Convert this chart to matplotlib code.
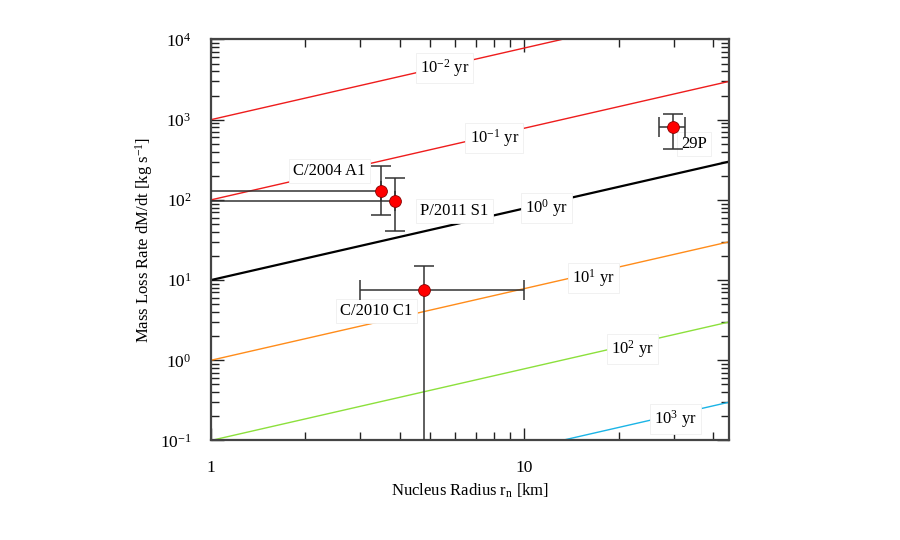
import numpy as np
import matplotlib
matplotlib.use("Agg")
import matplotlib.pyplot as plt

plt.rcParams['font.family'] = ['Liberation Serif', 'DejaVu Serif']
plt.rcParams['mathtext.fontset'] = 'custom'
plt.rcParams['mathtext.rm'] = 'Liberation Serif'
plt.rcParams['mathtext.it'] = 'Liberation Serif:italic'

# ---- data ----
x_range = [1.0, 45.0]
y_range = [0.1, 1e4]

# lifetime lines: mass-loss rate at r=1 km and at r=45 km
line_labels = ["10$^{-2}$ yr", "10$^{-1}$ yr", "10$^{0}$ yr",
               "10$^{1}$ yr", "10$^{2}$ yr", "10$^{3}$ yr"]
line_y_start = [1000.0, 100.0, 10.0, 1.0, 0.1, 0.01]
line_y_end = [30000.0, 3000.0, 300.0, 30.0, 3.0, 0.3]
line_colors = ["#ee1c1c", "#ee1c1c", "#000000", "#ff8c1a", "#8ce03c", "#1bb4e6"]
line_widths = [1.0, 1.0, 1.6, 1.0, 1.0, 1.0]
line_label_x = [5.56, 8.02, 11.75, 16.6, 22.2, 30.3]
line_label_y = [4420.0, 591.0, 79.0, 10.6, 1.38, 0.185]

# comets
comet_names = ["C/2004 A1", "P/2011 S1", "C/2010 C1", "29P"]
comet_r = [3.49, 3.88, 4.77, 29.8]
comet_r_lo = [0.5, 0.5, 3.0, 26.9]
comet_r_hi = [3.49, 3.88, 10.0, 32.6]
comet_m = [130.0, 96.0, 7.46, 811.0]
comet_m_lo = [65.0, 40.6, 0.01, 435.0]
comet_m_hi = [262.0, 189.0, 14.9, 1167.0]
comet_label_x = [2.39, 5.98, 3.37, 34.8]
comet_label_y = [231.0, 73.3, 4.15, 498.0]

xtick_major = [1, 10]
xtick_major_labels = ["1", "10"]
ytick_major = [0.1, 1, 10, 100, 1000, 10000]
ytick_major_labels = ["10$^{-1}$", "10$^{0}$", "10$^{1}$", "10$^{2}$", "10$^{3}$", "10$^{4}$"]

# ---- figure ----
fig = plt.figure(figsize=(9, 5.4), dpi=100)
ax = fig.add_axes([0.2344, 0.1843, 0.5756, 0.7426])
ax.set_xscale('log')
ax.set_yscale('log')
ax.set_xlim(*x_range)
ax.set_ylim(*y_range)

bbox = dict(boxstyle='square,pad=0.25', fc='white', ec='#efefef', lw=0.6)

for ys, ye, c, lw in zip(line_y_start, line_y_end, line_colors, line_widths):
    ax.plot(x_range, [ys, ye], color=c, lw=lw, zorder=2)
for lab, lx, ly in zip(line_labels, line_label_x, line_label_y):
    ax.text(lx, ly, lab, ha='center', va='center', fontsize=12,
            bbox=bbox, zorder=3)

for i in range(len(comet_names)):
    xe = [[comet_r[i] - comet_r_lo[i]], [comet_r_hi[i] - comet_r[i]]]
    ye = [[comet_m[i] - comet_m_lo[i]], [comet_m_hi[i] - comet_m[i]]]
    ax.errorbar([comet_r[i]], [comet_m[i]], xerr=xe, yerr=ye, fmt='none',
                ecolor='#333333', elinewidth=1.1, capsize=7.5, capthick=1.1,
                zorder=4)
    ax.plot([comet_r[i]], [comet_m[i]], 'o', ms=8.5, mfc='#ff0000',
            mec='#880000', mew=0.6, zorder=5)
for name, lx, ly in zip(comet_names, comet_label_x, comet_label_y):
    ax.text(lx, ly, name, ha='center', va='center', fontsize=12,
            bbox=bbox, zorder=3)

# ticks
ax.set_xticks(xtick_major)
ax.set_xticklabels(xtick_major_labels)
ax.set_yticks(ytick_major)
ax.set_yticklabels(ytick_major_labels)
ax.xaxis.set_minor_locator(matplotlib.ticker.LogLocator(base=10, subs=np.arange(2, 10)))
ax.yaxis.set_minor_locator(matplotlib.ticker.LogLocator(base=10, subs=np.arange(2, 10), numticks=20))
ax.xaxis.set_minor_formatter(matplotlib.ticker.NullFormatter())
ax.yaxis.set_minor_formatter(matplotlib.ticker.NullFormatter())
ax.tick_params(which='both', direction='in', top=True, right=True,
               color='#222222', labelsize=12.5)
ax.tick_params(which='major', length=9, width=1.0)
ax.tick_params(which='minor', length=6, width=1.0)
ax.tick_params(axis='y', which='major', pad=14)
ax.tick_params(axis='x', which='major', pad=14)

for s in ax.spines.values():
    s.set_color('#444444')
    s.set_linewidth(1.6)

ax.set_xlabel("Nucleus Radius r$_{\\mathrm{n}}$ [km]", fontsize=12, labelpad=4)
ax.set_ylabel("Mass Loss Rate dM/dt [kg s$^{-1}$]", fontsize=12)
ax.yaxis.set_label_coords(-0.108, 0.5)

fig.savefig("out.png", dpi=100)
